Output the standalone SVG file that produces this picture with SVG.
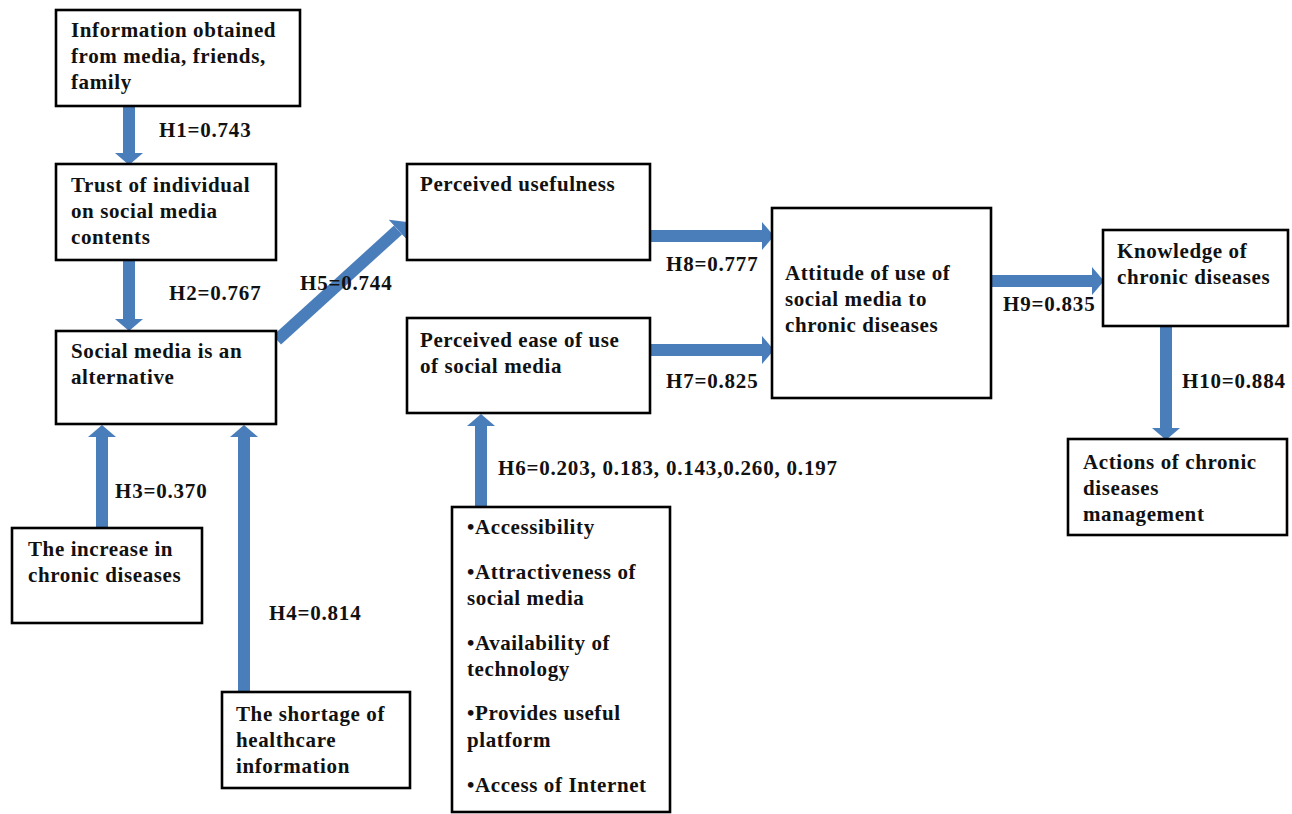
<svg xmlns="http://www.w3.org/2000/svg" width="1292" height="814" viewBox="0 0 1292 814">
<style>
.box{fill:#fff;stroke:#000;stroke-width:2.6}
.t{font-family:"Liberation Serif","Times New Roman",serif;font-weight:bold;font-size:21px;letter-spacing:0.6px;fill:#111}
.lbl{font-family:"Liberation Serif","Times New Roman",serif;font-weight:bold;font-size:21px;letter-spacing:0.8px;fill:#111}
.arr{stroke:#4a7ebb;stroke-width:12;fill:none;marker-end:url(#ah)}
</style>
<defs>
<marker id="ah" markerUnits="userSpaceOnUse" markerWidth="12" markerHeight="28" viewBox="0 0 12 28" refX="0" refY="14" orient="auto">
<path d="M0,0 L12,14 L0,28 z" fill="#4a7ebb"/>
</marker>
</defs>
<rect width="1292" height="814" fill="#fff"/>
<g id="connectors">
<line class="arr" x1="129" y1="107" x2="129" y2="153"/>
<line class="arr" x1="129" y1="260" x2="129" y2="319"/>
<line class="arr" x1="102" y1="528" x2="102" y2="437"/>
<line class="arr" x1="244" y1="692" x2="244" y2="437"/>
<line class="arr" x1="277" y1="340" x2="398" y2="230"/>
<line class="arr" x1="481" y1="507" x2="481" y2="426"/>
<line class="arr" x1="650" y1="236" x2="762" y2="236"/>
<line class="arr" x1="650" y1="350" x2="762" y2="350"/>
<line class="arr" x1="992" y1="281" x2="1092" y2="281"/>
<line class="arr" x1="1166" y1="326" x2="1166" y2="428"/>
</g>
<g id="labels">
<text class="lbl" x="159" y="137">H1=0.743</text>
<text class="lbl" x="169" y="300">H2=0.767</text>
<text class="lbl" x="300" y="290">H5=0.744</text>
<text class="lbl" x="115" y="498">H3=0.370</text>
<text class="lbl" x="269" y="620">H4=0.814</text>
<text class="lbl" x="666" y="271">H8=0.777</text>
<text class="lbl" x="666" y="388">H7=0.825</text>
<text class="lbl" x="1003" y="311">H9=0.835</text>
<text class="lbl" x="1182" y="388">H10=0.884</text>
<text class="lbl" x="498" y="475">H6=0.203, 0.183, 0.143,0.260, 0.197</text>
</g>
<g id="n-info">
<rect class="box" x="56" y="10" width="244" height="96"/>
<text class="t" x="71" y="37">Information obtained</text>
<text class="t" x="71" y="63">from media, friends,</text>
<text class="t" x="71" y="89">family</text>
</g>
<g id="n-trust">
<rect class="box" x="56" y="164" width="220" height="96"/>
<text class="t" x="71" y="192">Trust of individual</text>
<text class="t" x="71" y="218">on social media</text>
<text class="t" x="71" y="244">contents</text>
</g>
<g id="n-alt">
<rect class="box" x="56" y="331" width="220" height="93"/>
<text class="t" x="71" y="358">Social media is an</text>
<text class="t" x="71" y="384">alternative</text>
</g>
<g id="n-increase">
<rect class="box" x="12" y="528" width="190" height="95"/>
<text class="t" x="28" y="556">The increase in</text>
<text class="t" x="28" y="582">chronic diseases</text>
</g>
<g id="n-shortage">
<rect class="box" x="222" y="692" width="188" height="96"/>
<text class="t" x="236" y="721">The shortage of</text>
<text class="t" x="236" y="747">healthcare</text>
<text class="t" x="236" y="773">information</text>
</g>
<g id="n-useful">
<rect class="box" x="407" y="164" width="243" height="96"/>
<text class="t" x="420" y="191">Perceived usefulness</text>
</g>
<g id="n-ease">
<rect class="box" x="407" y="318" width="243" height="95"/>
<text class="t" x="420" y="347">Perceived ease of use</text>
<text class="t" x="420" y="373">of social media</text>
</g>
<g id="n-factors">
<rect class="box" x="452" y="507" width="218" height="305"/>
<text class="t" x="467" y="534">•Accessibility</text>
<text class="t" x="467" y="579">•Attractiveness of</text>
<text class="t" x="467" y="605">social media</text>
<text class="t" x="467" y="650">•Availability of</text>
<text class="t" x="467" y="676">technology</text>
<text class="t" x="467" y="720">•Provides useful</text>
<text class="t" x="467" y="747">platform</text>
<text class="t" x="467" y="792">•Access of Internet</text>
</g>
<g id="n-attitude">
<rect class="box" x="772" y="208" width="219" height="190"/>
<text class="t" x="785" y="280">Attitude of use of</text>
<text class="t" x="785" y="306">social media to</text>
<text class="t" x="785" y="332">chronic diseases</text>
</g>
<g id="n-knowledge">
<rect class="box" x="1103" y="230" width="185" height="96"/>
<text class="t" x="1117" y="258">Knowledge of</text>
<text class="t" x="1117" y="284">chronic diseases</text>
</g>
<g id="n-actions">
<rect class="box" x="1068" y="439" width="219" height="96"/>
<text class="t" x="1083" y="469">Actions of chronic</text>
<text class="t" x="1083" y="495">diseases</text>
<text class="t" x="1083" y="521">management</text>
</g>
</svg>
